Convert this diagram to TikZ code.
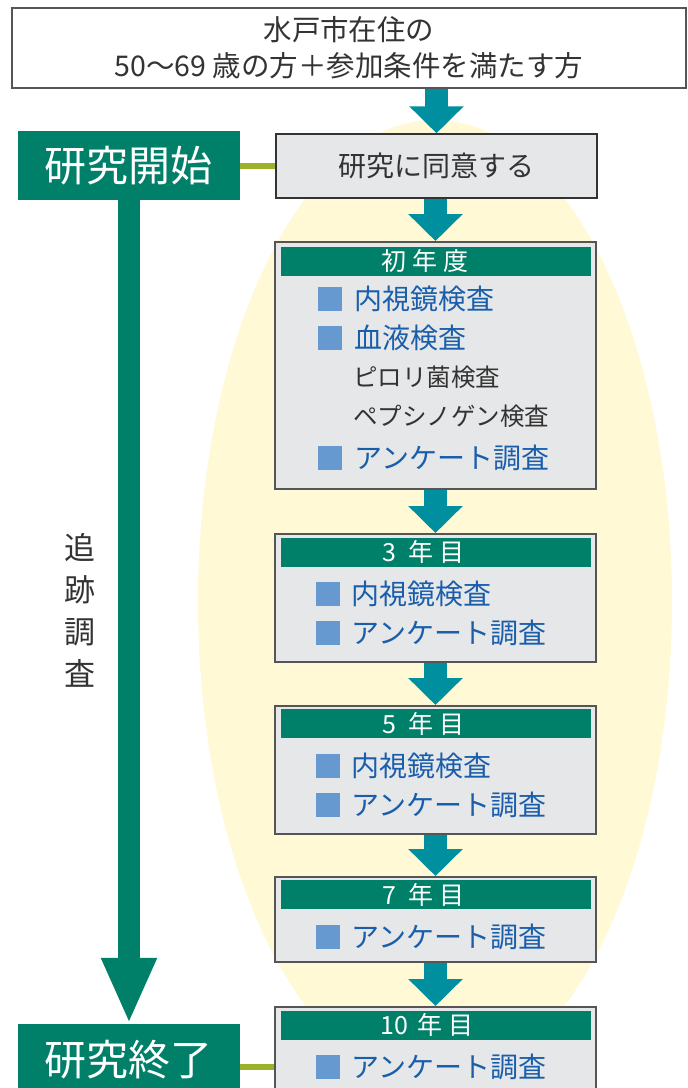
\documentclass[tikz,border=0pt]{standalone}
\usepackage{fontspec}
\setmainfont{Noto Sans CJK JP}
\usetikzlibrary{arrows.meta}
\definecolor{hdr}{RGB}{0,128,105}
\definecolor{tealarr}{RGB}{0,143,158}
\definecolor{olivec}{RGB}{156,176,42}
\definecolor{ellyellow}{RGB}{255,249,214}
\definecolor{boxgray}{RGB}{230,231,232}
\definecolor{boxborder}{RGB}{85,85,85}
\definecolor{darktext}{RGB}{51,51,51}
\definecolor{itemblue}{RGB}{26,94,171}
\definecolor{sqblue}{RGB}{102,153,207}
\tikzset{
  ybox/.style={draw=boxborder, line width=1.5pt, fill=boxgray, inner sep=0pt, minimum width=321pt, anchor=north},
  header/.style={fill=hdr, minimum width=310pt, minimum height=29pt, inner sep=0pt},
  htext/.style={anchor=west, text=white, inner sep=0pt, font=\fontsize{25pt}{27pt}\selectfont},
  sq/.style={fill=sqblue, minimum size=24pt, inner sep=0pt},
  item/.style={anchor=west, text=itemblue, inner sep=0pt, font=\fontsize{28pt}{30pt}\selectfont},
  subitem/.style={anchor=west, text=darktext, inner sep=0pt, font=\fontsize{24.5pt}{27pt}\selectfont},
  gbox/.style={fill=hdr, text=white, minimum width=222pt, minimum height=69pt, inner sep=0pt, font=\fontsize{42pt}{44pt}\selectfont},
  tealarrow/.style={draw=tealarr, line width=23pt, -{Triangle[width=53pt,length=27pt]}},
  bigarrow/.style={draw=hdr, line width=22pt, -{Triangle[width=51pt,length=66pt]}},
  olivelink/.style={draw=olivec, line width=6pt},
}
\begin{document}
\begin{tikzpicture}[x=1pt,y=-1pt]
\useasboundingbox (0,0) rectangle (688,1088);
\clip (0,0) rectangle (688,1088);
% background ellipse
\fill[ellyellow] (435,602) ellipse [x radius=237pt, y radius=482pt];

% top box
\node[draw=boxborder, line width=1.2pt, fill=white, minimum width=674pt, minimum height=80pt, inner sep=0pt,
      align=center, text=darktext, font=\fontsize{28.5pt}{36pt}\selectfont] (top) at (349,48)
      {水戸市在住の\\50〜69 歳の方＋参加条件を満たす方};

% start / end boxes
\node[gbox] (start) at (129,165.5) {研究開始};
\node[gbox, minimum height=72pt] (fin) at (129,1060) {研究終了};

% consent box
\node[draw=darktext, line width=1.5pt, fill=boxgray, minimum width=321pt, minimum height=64pt, inner sep=0pt,
      text=darktext, font=\fontsize{28pt}{30pt}\selectfont] (consent) at (436.5,166) {研究に同意する};

% year boxes
\node[ybox, minimum height=247pt] (y1) at (435.5,241) {};
\node[ybox, minimum height=128pt] (y3) at (435.5,533) {};
\node[ybox, minimum height=128pt] (y5) at (435.5,705) {};
\node[ybox, minimum height=85pt] (y7) at (435.5,876) {};
\node[ybox, minimum height=110pt] (y10) at (435.5,1006) {};

% headers
\node[header] (h1) at (436,261) {};
\node[htext] (h1t) at (381,261) {初\hspace{6pt}年\hspace{6pt}度};
\node[header] (h3) at (436,552) {};
\node[htext] (h3t) at (382,552) {3\hspace{12pt}年\hspace{6pt}目};
\node[header] (h5) at (436,723.5) {};
\node[htext] (h5t) at (382,723.5) {5\hspace{12pt}年\hspace{6pt}目};
\node[header] (h7) at (436,894.5) {};
\node[htext] (h7t) at (382,894.5) {7\hspace{12pt}年\hspace{6pt}目};
\node[header] (h10) at (436,1025) {};
\node[htext] (h10t) at (380,1025) {10\hspace{10pt}年\hspace{6pt}目};

% items box 1
\node[sq] (q1a) at (330,299) {};
\node[item] (t1a) at (354,299) {内視鏡検査};
\node[sq] (q1b) at (330,338) {};
\node[item] (t1b) at (354,338) {血液検査};
\node[subitem] (t1c) at (353,377) {ピロリ菌検査};
\node[subitem] (t1d) at (353,416) {ペプシノゲン検査};
\node[sq] (q1e) at (330,458) {};
\node[item] (t1e) at (354,458) {アンケート調査};

% items box 3
\node[sq] (q3a) at (327.5,594) {};
\node[item] (t3a) at (351,594) {内視鏡検査};
\node[sq] (q3b) at (327.5,633) {};
\node[item] (t3b) at (351,633) {アンケート調査};

% items box 5
\node[sq] (q5a) at (327.5,766) {};
\node[item] (t5a) at (351,766) {内視鏡検査};
\node[sq] (q5b) at (327.5,805) {};
\node[item] (t5b) at (351,805) {アンケート調査};

% items box 7
\node[sq] (q7a) at (327.5,936.5) {};
\node[item] (t7a) at (351,936.5) {アンケート調査};

% items box 10
\node[sq] (q10a) at (327.5,1067) {};
\node[item] (t10a) at (351,1067) {アンケート調査};

% teal arrows
\draw[tealarrow] (top.south -| consent.north) -- (consent.north);
\draw[tealarrow] (consent.south -| y1.north) -- (y1.north);
\draw[tealarrow] (y1.south) -- (y3.north);
\draw[tealarrow] (y3.south) -- (y5.north);
\draw[tealarrow] (y5.south) -- (y7.north);
\draw[tealarrow] (y7.south) -- (y10.north);

% big arrow
\draw[bigarrow] (start.south) -- (fin.north);

% olive links
\draw[olivelink] (start.east) -- (start.east -| consent.west);
\draw[olivelink] (fin.east |- q10a.center) -- (y10.west |- q10a.center);

% vertical label
\node[align=center, text=darktext, inner sep=0pt, font=\fontsize{31pt}{42pt}\selectfont] (track) at (80,610) {追\\跡\\調\\査};
\end{tikzpicture}
\end{document}
